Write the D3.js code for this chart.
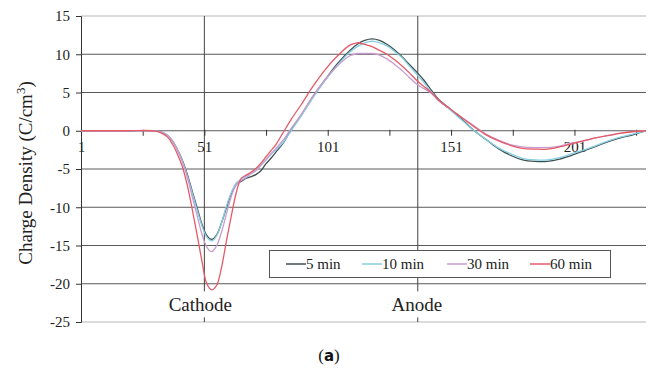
<!DOCTYPE html>
<html>
<head>
<meta charset="utf-8">
<script src="https://cdn.jsdelivr.net/npm/d3@7"></script>
<style>
  html, body { margin: 0; padding: 0; background: #fff; }
  svg { display: block; }
</style>
</head>
<body>
<svg id="chart" width="648" height="370"></svg>
<script>
// ---- data ----
const positions = [1,10,20,30,33,36,38,40,42,44,46,48,50,52,54,56,58,60,62,64,66,68,70,72,74,76,78,80,83,86,90,95,100,105,110,113,116,119,122,125,128,131,134,137,140,143,146,150,155,160,165,170,175,180,185,190,195,200,205,210,215,220,225,230];

const min5 = [0,0,0,0,-0.1,-0.6,-1.3,-2.4,-3.8,-5.6,-7.8,-10.0,-12.2,-13.7,-14.2,-13.6,-12.0,-10.0,-8.2,-7.0,-6.6,-6.2,-6.0,-5.7,-5.2,-4.3,-3.6,-2.8,-1.6,0.1,1.9,4.5,6.7,8.8,10.5,11.3,11.8,12.0,11.8,11.3,10.6,9.7,8.7,7.7,6.6,5.3,4.1,3.0,1.6,0.1,-1.1,-2.3,-3.2,-3.8,-4.0,-4.0,-3.7,-3.2,-2.6,-2.0,-1.4,-0.9,-0.5,0];

const min10 = [0,0,0,0,-0.1,-0.6,-1.3,-2.4,-3.9,-5.8,-8.0,-10.3,-12.4,-13.9,-14.4,-13.7,-12.0,-9.8,-8.0,-6.8,-6.3,-5.9,-5.5,-5.0,-4.4,-3.8,-3.1,-2.5,-1.5,-0.1,1.8,4.3,6.6,8.6,10.3,11.0,11.5,11.7,11.5,11.1,10.4,9.6,8.5,7.4,6.3,5.1,4.0,2.9,1.5,0.1,-1.1,-2.2,-3.0,-3.6,-3.8,-3.8,-3.5,-3.0,-2.5,-1.9,-1.3,-0.8,-0.4,0];

const min30 = [0,0,0,0,-0.1,-0.6,-1.3,-2.5,-4.0,-6.0,-8.5,-11.0,-13.5,-15.2,-15.8,-15.0,-13.2,-10.8,-8.5,-7.0,-6.5,-6.1,-5.6,-5.2,-4.5,-3.8,-3.0,-2.3,-1.2,0.2,2.0,4.5,6.7,8.5,9.8,10.1,10.1,10.1,9.9,9.4,8.7,7.9,7.0,6.1,5.5,4.9,3.9,3.0,1.8,0.7,-0.4,-1.2,-1.8,-2.1,-2.2,-2.2,-2.0,-1.6,-1.3,-0.9,-0.6,-0.3,-0.1,0];

const min60 = [0,0,0,0,-0.2,-0.8,-1.7,-3.0,-4.6,-7.0,-10.1,-13.5,-17.0,-20.0,-20.8,-20.2,-17.8,-14.3,-11.0,-8.0,-6.2,-5.8,-5.4,-4.9,-4.2,-3.4,-2.6,-1.8,-0.2,1.4,3.3,5.8,8.0,9.8,11.2,11.5,11.3,11.0,10.5,10.0,9.3,8.5,7.6,6.6,5.8,5.0,4.0,3.0,1.8,0.6,-0.5,-1.3,-1.9,-2.3,-2.4,-2.4,-2.1,-1.7,-1.3,-0.9,-0.6,-0.3,-0.1,0];

const seriesNames = ["5 min", "10 min", "30 min", "60 min"];
const seriesColors = ["#3f4f50", "#86cfe2", "#c99ccf", "#e65a68"];

const yTicks = [15, 10, 5, 0, -5, -10, -15, -20, -25];
const xTicks = [1, 26, 51, 76, 101, 126, 151, 176, 201, 226];
const xTickLabels = [1, 51, 101, 151, 201];

const electrodeNames = ["Cathode", "Anode"];
const electrodePos = [51, 137.5];

const yTitle = "Charge Density (C/cm";
const caption = "a";

// ---- layout ----
const svg = d3.select("#chart");
const L = 81, R = 646, T = 16, B = 322;
const x = d3.scaleLinear().domain([1, 230]).range([L, R]);
const y = d3.scaleLinear().domain([-25, 15]).range([B, T]);
const serif = "'Liberation Serif', 'Times New Roman', serif";

// horizontal gridlines
svg.append("g").selectAll("line").data(yTicks).join("line")
  .attr("x1", L).attr("x2", R)
  .attr("y1", d => y(d)).attr("y2", d => y(d))
  .attr("stroke", d => (d === 15 || d === -25) ? "#cfcfcf" : "#5a5a5a")
  .attr("stroke-width", d => (d === 15 || d === -25) ? 1.5 : 1);

// electrode marker lines
svg.append("g").selectAll("line").data(electrodePos).join("line")
  .attr("x1", d => x(d)).attr("x2", d => x(d))
  .attr("y1", y(15)).attr("y2", y(-21))
  .attr("stroke", "#444").attr("stroke-width", 1);
svg.append("g").selectAll("line").data(electrodePos).join("line")
  .attr("x1", d => x(d)).attr("x2", d => x(d))
  .attr("y1", y(-24.4)).attr("y2", y(-25))
  .attr("stroke", "#444").attr("stroke-width", 1);

// left axis
const yAxis = d3.axisLeft(y).tickValues(yTicks).tickSize(5).tickPadding(6)
  .tickFormat(d => String(d));
const gy = svg.append("g").attr("transform", `translate(${L},0)`).call(yAxis);
gy.select(".domain").attr("stroke", "#333");
gy.selectAll(".tick line").attr("stroke", "#333");
gy.selectAll("text").attr("font-family", serif).attr("font-size", 15).attr("fill", "#222");

// x axis at zero
const xAxis = d3.axisBottom(x).tickValues(xTicks).tickSize(5)
  .tickFormat(d => xTickLabels.includes(d) ? String(d) : "");
const gx = svg.append("g").attr("transform", `translate(0,${y(0)})`).call(xAxis);
gx.select(".domain").remove();
gx.selectAll(".tick line").attr("stroke", "#333").attr("y1", -1);
gx.selectAll("text").attr("font-family", serif).attr("font-size", 15).attr("fill", "#222").attr("dy", "0.9em");

// series lines
const allSeries = [min5, min10, min30, min60];
const line = d3.line().x((d, i) => x(positions[i])).y(d => y(d)).curve(d3.curveCatmullRom.alpha(0.5));
svg.append("g").selectAll("path").data(allSeries).join("path")
  .attr("d", d => line(d))
  .attr("fill", "none")
  .attr("stroke", (d, i) => seriesColors[i])
  .attr("stroke-width", 1.3);

// electrode labels
svg.append("g").selectAll("text").data(electrodeNames).join("text")
  .attr("x", (d, i) => x(electrodePos[i]) - (i === 0 ? 4 : 1))
  .attr("y", 311)
  .attr("text-anchor", "middle")
  .attr("font-family", serif).attr("font-size", 19).attr("fill", "#222")
  .text(d => d);

// legend
const lg = svg.append("g");
lg.append("rect").attr("x", 269.5).attr("y", 250.5).attr("width", 341).attr("height", 27)
  .attr("fill", "#fff").attr("stroke", "#555").attr("stroke-width", 1);
const legX = [286, 362, 447, 530];
const items = lg.selectAll("g.item").data(seriesNames).join("g").attr("class", "item")
  .attr("transform", (d, i) => `translate(${legX[i]},264)`);
items.append("line").attr("x1", 0).attr("x2", 20).attr("y1", 0).attr("y2", 0)
  .attr("stroke", (d, i) => seriesColors[i]).attr("stroke-width", 1.5);
items.append("text").attr("x", 20).attr("y", 5)
  .attr("font-family", serif).attr("font-size", 15).attr("fill", "#222")
  .text(d => d);

// y title
const yt = svg.append("text")
  .attr("transform", `translate(32,${(T + B) / 2 + 4}) rotate(-90)`)
  .attr("text-anchor", "middle")
  .attr("font-family", serif).attr("font-size", 19).attr("fill", "#222");
yt.append("tspan").text(yTitle);
yt.append("tspan").attr("font-size", 13).attr("dy", -7).text("3");
yt.append("tspan").attr("dy", 7).text(")");

// caption
const cap = svg.append("text").attr("x", 329).attr("y", 361).attr("text-anchor", "middle")
  .attr("font-family", serif).attr("font-size", 17).attr("fill", "#111");
cap.append("tspan").text("(");
cap.append("tspan").attr("font-weight", "bold").attr("font-family", "'DejaVu Sans', sans-serif").attr("font-size", 15).text(caption);
cap.append("tspan").text(")");
</script>
</body>
</html>
